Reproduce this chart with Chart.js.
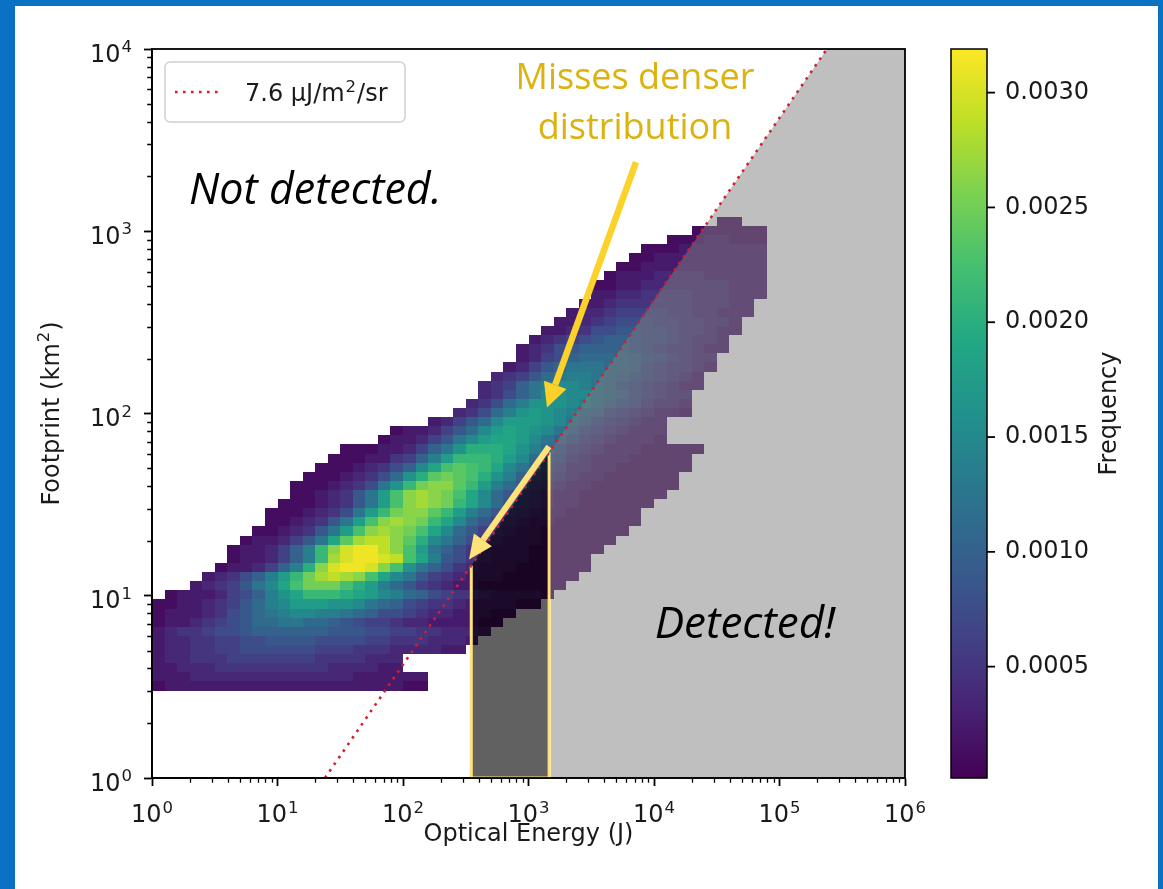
<!DOCTYPE html>
<html>
<head>
<meta charset="utf-8">
<title>Footprint vs optical energy</title>
<script src="https://cdn.jsdelivr.net/npm/chart.js@4.4.1/dist/chart.umd.min.js"></script>
<style>
  html, body { margin: 0; padding: 0; }
  body { width: 1163px; height: 889px; background: #0a72c3; position: relative; overflow: hidden; }
  #panel { position: absolute; left: 15px; top: 6px; width: 1143px; height: 883px; background: #fff; }
  canvas { display: block; }
</style>
</head>
<body>
<div id="panel"><canvas id="chart" width="1143" height="883"></canvas></div>
<script>
// Histogram bin edges, log10 of energy (J) and of footprint (km^2)
const energyEdgesLog = [0.0, 0.1, 0.2, 0.3, 0.4, 0.5, 0.6, 0.7, 0.8, 0.9,
  1.0, 1.1, 1.2, 1.3, 1.4, 1.5, 1.6, 1.7, 1.8, 1.9,
  2.0, 2.1, 2.2, 2.3, 2.4, 2.5, 2.6, 2.7, 2.8, 2.9,
  3.0, 3.1, 3.2, 3.3, 3.4, 3.5, 3.6, 3.7, 3.8, 3.9,
  4.0, 4.1, 4.2, 4.3, 4.4, 4.5, 4.6, 4.7, 4.8, 4.9];
const footprintEdgesLog = [0.48, 0.53, 0.58, 0.63, 0.68, 0.73, 0.78, 0.83, 0.88, 0.93,
  0.98, 1.03, 1.08, 1.13, 1.18, 1.23, 1.28, 1.33, 1.38, 1.43,
  1.48, 1.53, 1.58, 1.63, 1.68, 1.73, 1.78, 1.83, 1.88, 1.93,
  1.98, 2.03, 2.08, 2.13, 2.18, 2.23, 2.28, 2.33, 2.38, 2.43,
  2.48, 2.53, 2.58, 2.63, 2.68, 2.73, 2.78, 2.83, 2.88, 2.93,
  2.98, 3.03, 3.08];

// Frequency per footprint row (bottom row first): [first energy bin, levels]
// a letter is a level (a = 0, b = 1, ... z = 25), frequency = level * freqStep
const freqStep = 0.000125;
const histRows = [
  [0, 'bcccccccccccccccccccbb'],
  [0, 'cccdddddddddddddcccccc'],
  [0, 'ccdddeeeeeeeeeddddcc'],
  [0, 'cddeeefffffffeeeeddd'],
  [0, 'cddeeffggggggfffeeeddddcc'],
  [0, 'cddeeffgghhhhggggffeeedddc'],
  [0, 'cdeefgghiiiiiihhhggffeedddc'],
  [0, 'bccdefghjjkkjjihgffeddccccbb'],
  [0, 'bcccdeghjklmmllkjiggfeddcccbb'],
  [0, 'bbccdefhjlmooonnmkjigfeedccccbb'],
  [1, 'bcccdfgilnprrrqpomljigfeedccccb'],
  [3, 'cdefhkmpsuuusqoljhfedccbbbbbbb'],
  [4, 'cdegiloruwxwvspmkhfedcccbbbbbb'],
  [5, 'bccdfilqvyzzyvsnkigedcccbbbbbb'],
  [6, 'bccdfilrwyzzyxsplhgedcccbbbbb'],
  [6, 'bccdfilrvyzzxvsokigedcccbbbbbb'],
  [7, 'bccdfhkptwxxvtqmkigedcccbbbbbb'],
  [8, 'bbcdehkosvwvuspmjhfedccbbbbbbb'],
  [9, 'bbcdehkosvwvurpmjhfedccbbbbbbb'],
  [9, 'bbbcdegkoruvvtroljhfedccbbbbbb'],
  [10, 'bbbcdehkosvwvurpmjhfedccbbbbbb'],
  [11, 'bbcdehkosvwvuspmjhfedccbbbbbbb'],
  [11, 'bbbcdegknruvvtroljhfedccbbbbbbb'],
  [12, 'bbbcdegjnqtutsqnligfedccbbbbbb'],
  [13, 'bbbcdegimpstsrpmkigfddccbbbbbb'],
  [14, 'bbbccefilorrrqomjhgedcccbbbbb'],
  [15, 'bbbccdfiknqqqpnljhfedcccbbbbb'],
  [18, 'bccdfhkmoppomkihfedcccb'],
  [19, 'bccdfhjmoponmkigfedccc'],
  [22, 'cdfhjmooonmkigfedcc'],
  [24, 'degjlnonmljigfedccb'],
  [25, 'degjlnnnmlkihgeddc'],
  [26, 'degikmnmmkjigfedd'],
  [26, 'defiklmmlkjhgfedcc'],
  [27, 'defhjkllkjihgfedc'],
  [28, 'cdfhikkkjjigfeedc'],
  [29, 'cdfgijjjjihgfedd'],
  [29, 'cdeghiiiihgfeedcc'],
  [30, 'cdefghiihggfeddc'],
  [31, 'ccdegghhggfeedcc'],
  [32, 'ccdefgggffeeddc'],
  [33, 'cddeffffeeddccc'],
  [34, 'ccdeeeeeedddcc'],
  [35, 'ccddeeeedddccc'],
  [35, 'bbccdddddddccc'],
  [36, 'bcccddddccccc'],
  [37, 'bbcccccccccc'],
  [38, 'bbccccccccc'],
  [39, 'bbbccccccc'],
  [41, 'bbbccbbb'],
  [43, 'bbbbbb'],
  [45, 'bb']
];

const energyTicks = [1, 10, 100, 1000, 10000, 100000, 1000000];
const footprintTicks = [1, 10, 100, 1000, 10000];
const colorbarTicks = [0.0005, 0.0010, 0.0015, 0.0020, 0.0025, 0.0030];
const colorbarMin = 0.000015;
const colorbarMax = 0.00319;

// 7.6 uJ/m^2/sr threshold line
const thresholdEnergy = [23.88, 238800];
const thresholdFootprint = [1, 10000];

// detected region (right of the threshold) and the missed window
const detectedEnergy = [1500, 238800, 1000000];
const detectedFootprint = [62.8, 10000, 10000];
const missedEnergy = [350, 1460];
const missedFootprint = [14.66, 61.1];

// annotation arrows, [energy, footprint]
const arrowMissFrom = [7190, 2394];
const arrowMissTo = [1404, 108];
const arrowWindowFrom = [1456, 65.9];
const arrowWindowTo = [336, 15.8];

const viridisStops = ['#440154', '#482475', '#414487', '#355f8d', '#2a788e', '#21918c',
  '#22a884', '#44bf70', '#7ad151', '#bddf26', '#fde725'];

const FONT = "'DejaVu Sans', sans-serif";

function hexToRgb(h) {
  return [parseInt(h.slice(1, 3), 16), parseInt(h.slice(3, 5), 16), parseInt(h.slice(5, 7), 16)];
}
const viridisRgb = viridisStops.map(hexToRgb);

function viridis(t) {
  t = Math.max(0, Math.min(1, t));
  const pos = t * (viridisRgb.length - 1);
  const i = Math.min(Math.floor(pos), viridisRgb.length - 2);
  const f = pos - i;
  const a = viridisRgb[i], b = viridisRgb[i + 1];
  const c = a.map((v, k) => Math.round(v + (b[k] - v) * f));
  return `rgb(${c[0]},${c[1]},${c[2]})`;
}

const toPoints = (xs, ys) => xs.map((v, i) => ({ x: v, y: ys[i] }));

// "10" with a raised exponent, like matplotlib's mathtext
function drawPower(ctx, value, x, baseline, align) {
  const exp = String(Math.round(Math.log10(value)));
  ctx.font = `24px ${FONT}`;
  const wBase = ctx.measureText('10').width;
  ctx.font = `16.5px ${FONT}`;
  const wExp = ctx.measureText(exp).width;
  const total = wBase + 1 + wExp;
  const x0 = align === 'center' ? x - total / 2 : x - total;
  ctx.textAlign = 'left';
  ctx.textBaseline = 'alphabetic';
  ctx.font = `24px ${FONT}`;
  ctx.fillText('10', x0, baseline);
  ctx.font = `16.5px ${FONT}`;
  ctx.fillText(exp, x0 + wBase + 1, baseline - 9.5);
}

// Draw the 2D histogram cells under every dataset
const heatmapPlugin = {
  id: 'heatmap',
  beforeDatasetsDraw(chart) {
    const { ctx, scales: { x, y } } = chart;
    ctx.save();
    histRows.forEach(([firstBin, levels], row) => {
      const yb = Math.round(y.getPixelForValue(Math.pow(10, footprintEdgesLog[row])));
      const yt = Math.round(y.getPixelForValue(Math.pow(10, footprintEdgesLog[row + 1])));
      for (let i = 0; i < levels.length; i++) {
        const col = firstBin + i;
        const xl = Math.round(x.getPixelForValue(Math.pow(10, energyEdgesLog[col])));
        const xr = Math.round(x.getPixelForValue(Math.pow(10, energyEdgesLog[col] + 0.1)));
        const freq = (levels.charCodeAt(i) - 97) * freqStep;
        ctx.fillStyle = viridis((freq - colorbarMin) / (colorbarMax - colorbarMin));
        ctx.fillRect(xl, yt, xr - xl, yb - yt);
      }
    });
    ctx.restore();
  }
};

function drawArrow(ctx, x0, y0, x1, y1, color, width, headLen, headWidth) {
  const ang = Math.atan2(y1 - y0, x1 - x0);
  const bx = x1 - headLen * Math.cos(ang);
  const by = y1 - headLen * Math.sin(ang);
  ctx.strokeStyle = color;
  ctx.lineWidth = width;
  ctx.lineCap = 'butt';
  ctx.beginPath();
  ctx.moveTo(x0, y0);
  ctx.lineTo(bx, by);
  ctx.stroke();
  ctx.fillStyle = color;
  ctx.beginPath();
  ctx.moveTo(x1, y1);
  ctx.lineTo(bx + headWidth / 2 * Math.sin(ang), by - headWidth / 2 * Math.cos(ang));
  ctx.lineTo(bx - headWidth / 2 * Math.sin(ang), by + headWidth / 2 * Math.cos(ang));
  ctx.closePath();
  ctx.fill();
}

// Frame, ticks, annotations, legend and colorbar
const decorPlugin = {
  id: 'decor',
  afterDatasetsDraw(chart) {
    const { ctx, chartArea: area, scales: { x, y } } = chart;
    ctx.save();

    // minor ticks
    ctx.strokeStyle = '#000';
    ctx.lineWidth = 1.3;
    ctx.beginPath();
    for (let d = 0; d < 6; d++) {
      for (let m = 2; m <= 9; m++) {
        const px = Math.round(x.getPixelForValue(m * Math.pow(10, d))) + 0.5;
        ctx.moveTo(px, area.bottom);
        ctx.lineTo(px, area.bottom + 4.8);
      }
    }
    for (let d = 0; d < 4; d++) {
      for (let m = 2; m <= 9; m++) {
        const py = Math.round(y.getPixelForValue(m * Math.pow(10, d))) + 0.5;
        ctx.moveTo(area.left, py);
        ctx.lineTo(area.left - 4.8, py);
      }
    }
    ctx.stroke();

    // axes frame
    ctx.lineWidth = 1.8;
    ctx.strokeRect(area.left, area.top, area.right - area.left, area.bottom - area.top);

    // tick labels
    ctx.fillStyle = '#1a1a1a';
    energyTicks.forEach(v => drawPower(ctx, v, x.getPixelForValue(v), area.bottom + 44, 'center'));
    footprintTicks.forEach(v => drawPower(ctx, v, area.left - 20, y.getPixelForValue(v) + 12.5, 'right'));

    // y axis title with a raised exponent
    ctx.save();
    ctx.translate(area.left - 99, (area.top + area.bottom) / 2);
    ctx.rotate(-Math.PI / 2);
    ctx.font = `24px ${FONT}`;
    const t1 = 'Footprint (km', t3 = ')';
    const w1 = ctx.measureText(t1).width, w3 = ctx.measureText(t3).width;
    ctx.font = `16.5px ${FONT}`;
    const w2 = ctx.measureText('2').width;
    let tx = -(w1 + w2 + w3 + 2) / 2;
    ctx.textAlign = 'left';
    ctx.textBaseline = 'middle';
    ctx.font = `24px ${FONT}`;
    ctx.fillText(t1, tx, 0);
    tx += w1 + 1;
    ctx.font = `16.5px ${FONT}`;
    ctx.fillText('2', tx, -8);
    tx += w2 + 1;
    ctx.font = `24px ${FONT}`;
    ctx.fillText(t3, tx, 0);
    ctx.restore();

    // arrows
    drawArrow(ctx,
      x.getPixelForValue(arrowMissFrom[0]), y.getPixelForValue(arrowMissFrom[1]),
      x.getPixelForValue(arrowMissTo[0]), y.getPixelForValue(arrowMissTo[1]),
      '#fcd12a', 6.5, 24, 24);
    drawArrow(ctx,
      x.getPixelForValue(arrowWindowFrom[0]), y.getPixelForValue(arrowWindowFrom[1]),
      x.getPixelForValue(arrowWindowTo[0]), y.getPixelForValue(arrowWindowTo[1]),
      '#ffe27a', 6, 24, 22);

    // text annotations
    ctx.textAlign = 'center';
    ctx.textBaseline = 'alphabetic';
    ctx.fillStyle = '#000';
    ctx.font = "italic 43px 'Open Sans', sans-serif";
    ctx.fillText('Not detected.', x.getPixelForValue(20), y.getPixelForValue(1407));
    ctx.font = "italic 44px 'Open Sans', sans-serif";
    ctx.fillText('Detected!', x.getPixelForValue(53100), y.getPixelForValue(5.88));
    ctx.fillStyle = '#dcb30e';
    ctx.font = "36px 'Open Sans', sans-serif";
    ctx.fillText('Misses denser', x.getPixelForValue(7060), y.getPixelForValue(6030));
    ctx.fillText('distribution', x.getPixelForValue(7060), y.getPixelForValue(3200));

    // legend
    const lx = area.left + 13, ly = area.top + 13, lw = 240, lh = 60;
    ctx.fillStyle = 'rgba(255,255,255,0.85)';
    ctx.strokeStyle = '#d0d0d0';
    ctx.lineWidth = 1.5;
    ctx.beginPath();
    ctx.roundRect(lx, ly, lw, lh, 5);
    ctx.fill();
    ctx.stroke();
    ctx.strokeStyle = '#cc2233';
    ctx.lineWidth = 2.6;
    ctx.setLineDash([2.6, 5.4]);
    ctx.beginPath();
    ctx.moveTo(lx + 10, ly + 30);
    ctx.lineTo(lx + 57, ly + 30);
    ctx.stroke();
    ctx.setLineDash([]);
    ctx.fillStyle = '#1a1a1a';
    ctx.textAlign = 'left';
    ctx.textBaseline = 'alphabetic';
    const base = ly + 39;
    let lxText = lx + 80;
    ctx.font = `24px ${FONT}`;
    ctx.fillText('7.6 μJ/m', lxText, base);
    lxText += ctx.measureText('7.6 μJ/m').width + 1;
    ctx.font = `16.5px ${FONT}`;
    ctx.fillText('2', lxText, base - 9.5);
    lxText += ctx.measureText('2').width + 1;
    ctx.font = `24px ${FONT}`;
    ctx.fillText('/sr', lxText, base);

    ctx.restore();
  },
  afterDraw(chart) {
    const { ctx, chartArea: area } = chart;
    const left = area.right + 46, width = 36, top = area.top, bottom = area.bottom;
    ctx.save();
    const grad = ctx.createLinearGradient(0, bottom, 0, top);
    viridisStops.forEach((c, i) => grad.addColorStop(i / (viridisStops.length - 1), c));
    ctx.fillStyle = grad;
    ctx.fillRect(left, top, width, bottom - top);
    ctx.strokeStyle = '#000';
    ctx.lineWidth = 1.5;
    ctx.strokeRect(left, top, width, bottom - top);

    ctx.fillStyle = '#1a1a1a';
    ctx.font = `24px ${FONT}`;
    ctx.textAlign = 'left';
    ctx.textBaseline = 'middle';
    ctx.lineWidth = 1.8;
    colorbarTicks.forEach(v => {
      const py = bottom - (v - colorbarMin) / (colorbarMax - colorbarMin) * (bottom - top);
      ctx.beginPath();
      ctx.moveTo(left + width, py);
      ctx.lineTo(left + width + 8, py);
      ctx.stroke();
      ctx.fillText(v.toFixed(4), left + width + 18, py);
    });

    ctx.translate(left + width + 123, (top + bottom) / 2);
    ctx.rotate(-Math.PI / 2);
    ctx.textAlign = 'center';
    ctx.fillText('Frequency', 0, 0);
    ctx.restore();
  }
};

Chart.defaults.font.family = FONT;
Chart.defaults.font.size = 24;
Chart.defaults.color = '#1a1a1a';

new Chart(document.getElementById('chart'), {
  type: 'scatter',
  data: {
    datasets: [
      {
        label: '7.6 μJ/m²/sr',
        data: toPoints(thresholdEnergy, thresholdFootprint),
        showLine: true,
        borderColor: '#cc2233',
        borderWidth: 2.6,
        borderDash: [2.6, 5.4],
        pointRadius: 0,
        fill: false,
        order: 0
      },
      {
        label: 'missed window outline',
        data: [
          { x: missedEnergy[0], y: missedFootprint[0] },
          { x: missedEnergy[0], y: 1 },
          { x: missedEnergy[1], y: 1 },
          { x: missedEnergy[1], y: missedFootprint[1] }
        ],
        showLine: true,
        borderColor: '#ffe27a',
        borderWidth: 3,
        pointRadius: 0,
        fill: false,
        order: 1
      },
      {
        label: 'missed window',
        data: toPoints(missedEnergy, missedFootprint),
        showLine: true,
        borderColor: 'transparent',
        backgroundColor: 'rgba(0,0,0,0.62)',
        pointRadius: 0,
        fill: 'start',
        order: 2
      },
      {
        label: 'detected',
        data: toPoints(detectedEnergy, detectedFootprint),
        showLine: true,
        borderColor: 'transparent',
        backgroundColor: 'rgba(128,128,128,0.5)',
        pointRadius: 0,
        fill: 'start',
        order: 3
      }
    ]
  },
  options: {
    responsive: false,
    animation: false,
    layout: { padding: { left: 0, top: 43, right: 253, bottom: 0 } },
    plugins: {
      legend: { display: false },
      tooltip: { enabled: false }
    },
    scales: {
      x: {
        type: 'logarithmic',
        min: 1,
        max: 1000000,
        afterBuildTicks: scale => { scale.ticks = energyTicks.map(v => ({ value: v })); },
        afterFit: scale => { scale.height = 111; },
        ticks: { display: false, autoSkip: false, maxRotation: 0 },
        grid: { drawOnChartArea: false, drawTicks: true, tickLength: 8, tickColor: '#000', tickWidth: 1.8 },
        border: { display: true, color: '#000', width: 1.8 },
        title: { display: true, text: 'Optical Energy (J)', padding: { top: 0, bottom: 40 }, color: '#1a1a1a' }
      },
      y: {
        type: 'logarithmic',
        min: 1,
        max: 10000,
        afterBuildTicks: scale => { scale.ticks = footprintTicks.map(v => ({ value: v })); },
        afterFit: scale => { scale.width = 137; },
        ticks: { display: false, autoSkip: false },
        grid: { drawOnChartArea: false, drawTicks: true, tickLength: 8, tickColor: '#000', tickWidth: 1.8 },
        border: { display: true, color: '#000', width: 1.8 },
        title: { display: false }
      }
    }
  },
  plugins: [heatmapPlugin, decorPlugin]
});
</script>
</body>
</html>
